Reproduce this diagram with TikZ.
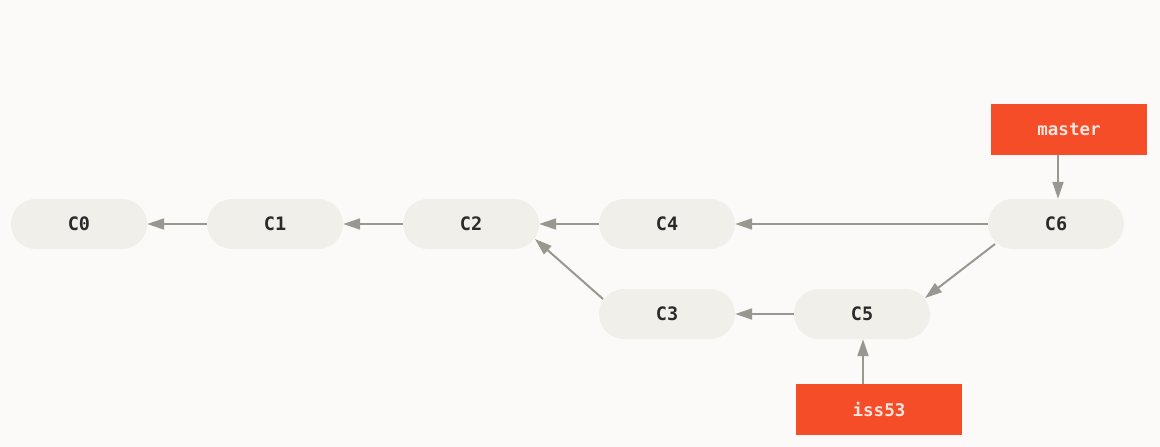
\documentclass[tikz,border=0pt]{standalone}
\usepackage{fontspec}
\setmonofont{DejaVu Sans Mono}
\usetikzlibrary{arrows.meta,calc}
\definecolor{bgc}{HTML}{FBFAF8}
\definecolor{nodec}{HTML}{F0EFE9}
\definecolor{linec}{HTML}{9A9790}
\definecolor{redc}{HTML}{F44D27}
\definecolor{labtxt}{HTML}{F7E4DE}
\definecolor{txtc}{HTML}{2A2A2A}
\begin{document}
\begin{tikzpicture}[x=1pt,y=-1pt,
  commit/.style={fill=nodec,draw=none,rounded corners=25pt,minimum width=136pt,minimum height=50pt,inner sep=0pt,font=\ttfamily\bfseries\fontsize{18.5}{20}\selectfont,text=txtc},
  branch/.style={fill=redc,draw=none,minimum height=51pt,inner sep=0pt,font=\ttfamily\bfseries\fontsize{17.5}{20}\selectfont,text=labtxt},
  conn/.style={draw=linec,line width=2pt,-{Triangle[length=17pt,width=11pt]}}]
\fill[bgc] (0,0) rectangle (1160,447);
\node[commit] (c0) at (79,224) {C0};
\node[commit] (c1) at (275,224) {C1};
\node[commit] (c2) at (471,224) {C2};
\node[commit] (c4) at (667,224) {C4};
\node[commit] (c6) at (1056,224) {C6};
\node[commit] (c3) at (667,314) {C3};
\node[commit] (c5) at (862,314) {C5};
\node[branch,minimum width=156pt] (master) at (1069,129) {master};
\node[branch,minimum width=166pt] (iss) at (879,409.5) {iss53};
\draw[conn] (c1) -- (c0);
\draw[conn] (c2) -- (c1);
\draw[conn] (c4) -- (c2);
\draw[conn] (c6) -- (c4);
\draw[conn] (c5) -- (c3);
\draw[conn] ($(c3.center)+(-64,-15)$) -- ($(c2.center)+(64,15)$);
\draw[conn] ($(c6.center)+(-61,20)$) -- ($(c5.center)+(63,-16)$);
\draw[conn] (master.south -| 1058,0) -- (c6.north -| 1058,0);
\draw[conn] (iss.north -| 863,0) -- (c5.south -| 863,0);
\end{tikzpicture}
\end{document}
